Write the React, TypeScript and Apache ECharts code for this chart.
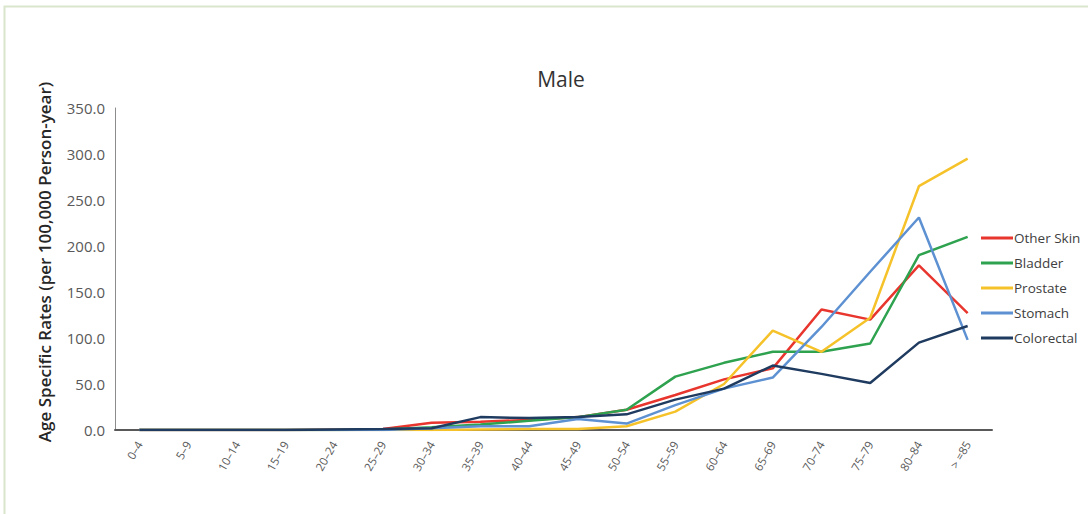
import React, { useEffect, useRef } from "react";
import * as echarts from "echarts";

const categories = ["0–4", "5–9", "10–14", "15–19", "20–24", "25–29", "30–34", "35–39", "40–44", "45–49", "50–54", "55–59", "60–64", "65–69", "70–74", "75–79", "80–84", "> =85"];
const otherSkin = [0, 0, 0, 0, 0.5, 1, 8, 9, 11, 14, 22, 38, 55, 67, 131, 120, 179, 127];
const bladder = [0, 0, 0, 0, 0, 0.5, 3, 6, 10, 14, 22, 58, 73, 85, 85, 94, 190, 210];
const prostate = [0, 0, 0, 0, 0, 0, 0, 0.5, 1, 1, 4, 20, 50, 108, 85, 122, 265, 295];
const stomach = [0, 0, 0, 0, 0, 0, 2, 4, 4, 12, 7, 27, 45, 57, 112, 172, 231, 98];
const colorectal = [0, 0, 0, 0, 0.5, 1, 2, 14, 13, 14, 17, 33, 45, 70, 61, 51, 95, 113];
const yTicks = { min: 0, max: 350, interval: 50 };
const yAxisTitle = "Age Specific Rates (per 100,000 Person-year)";

const seriesDefs = [
  { name: "Other Skin", data: otherSkin, color: "#e8352d" },
  { name: "Bladder", data: bladder, color: "#2ea24f" },
  { name: "Prostate", data: prostate, color: "#f6c22a" },
  { name: "Stomach", data: stomach, color: "#5d91d2" },
  { name: "Colorectal", data: colorectal, color: "#1f3b60" },
];

export default function App() {
  const ref = useRef<HTMLDivElement>(null);
  useEffect(() => {
    document.body.style.margin = "0";
    const chart = echarts.init(ref.current!, null, { renderer: "svg" });
    chart.setOption({
      animation: false,
      backgroundColor: "#ffffff",
      title: {
        text: "Male",
        left: 556,
        top: 63,
        textAlign: "center",
        textStyle: { fontFamily: "Open Sans", fontSize: 21, fontWeight: "normal", color: "#333333" },
      },
      graphic: [
        {
          type: "rect",
          shape: { x: 4.5, y: 6.5, width: 1100, height: 530 },
          style: { fill: "none", stroke: "#d9e6cc", lineWidth: 2 },
          silent: true,
        },
        {
          type: "text",
          x: 44,
          y: 262,
          rotation: Math.PI / 2,
          style: {
            text: yAxisTitle,
            fontFamily: "Open Sans",
            fontSize: 17,
            fontWeight: 600,
            fill: "#262626",
            align: "center",
            verticalAlign: "middle",
          },
          silent: true,
        },
      ],
      legend: {
        orient: "vertical",
        left: 976,
        top: 226,
        itemGap: 11,
        itemWidth: 32,
        itemHeight: 3,
        icon: "rect",
        textStyle: { fontFamily: "Open Sans", fontSize: 13.5, color: "#404040", padding: [0, 0, 0, -4] },
        data: seriesDefs.map((s) => s.name),
      },
      grid: { left: 115, right: 96, top: 108, bottom: 84 },
      xAxis: {
        type: "category",
        data: categories,
        boundaryGap: true,
        axisLine: { lineStyle: { color: "#595959", width: 2 } },
        axisTick: { show: false },
        axisLabel: {
          rotate: 60,
          interval: 0,
          margin: 12,
          fontFamily: "Open Sans",
          fontSize: 11.5,
          color: "#595959",
        },
      },
      yAxis: {
        type: "value",
        min: yTicks.min,
        max: yTicks.max,
        interval: yTicks.interval,
        axisLine: { show: true, lineStyle: { color: "#8c8c8c", width: 1 } },
        axisTick: { show: false },
        splitLine: { show: false },
        axisLabel: {
          formatter: (v: number) => v.toFixed(1),
          fontFamily: "Open Sans",
          fontSize: 15,
          color: "#595959",
          margin: 10,
        },
      },
      series: seriesDefs.map((s) => ({
        name: s.name,
        type: "line",
        data: s.data,
        symbol: "none",
        lineStyle: { color: s.color, width: 2.5 },
        itemStyle: { color: s.color },
      })),
    });
    return () => chart.dispose();
  }, []);
  return <div ref={ref} style={{ width: 1088, height: 514 }} />;
}
